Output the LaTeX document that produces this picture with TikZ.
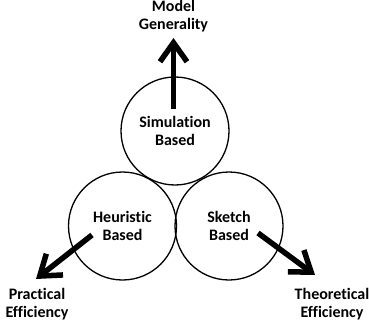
\documentclass[tikz,border=0pt]{standalone}
\usepackage{fontspec}
\setmainfont{Carlito}[Ligatures=NoCommon]
\usetikzlibrary{arrows.meta, positioning}
\tikzset{
    approach/.style={circle, draw=black, line width=1.3pt, minimum size=108pt, inner sep=0pt, align=center, font=\bfseries\fontsize{16}{18.5}\selectfont},
    goal/.style={align=center, font=\bfseries\fontsize{16}{18.5}\selectfont, inner sep=0pt},
    goalarrow/.style={-{Straight Barb[length=19pt, width=27pt]}, line width=5.5pt, black}
}

\begin{document}
\begin{tikzpicture}[x=1pt, y=-1pt]
\useasboundingbox (0,0) rectangle (369,326);

\node[approach] (sim) at (175,131) {Simulation\\Based};
\node[approach] (heur) at (122.5,226) {Heuristic\\Based};
\node[approach] (sketch) at (229,226) {Sketch\\Based};

\node[goal] (gen) at (173.5,16) {Model\\Generality};
\node[goal] (prac) at (37,304) {Practical\\Efficiency};
\node[goal] (theo) at (332,304) {Theoretical\\Efficiency};

\coordinate (simstart) at (173.5,109);
\coordinate (simtip) at (173.5,38);
\coordinate (heurstart) at (92,235);
\coordinate (heurtip) at (36,279);
\coordinate (sketchstart) at (258,233);
\coordinate (sketchtip) at (315,275);

\draw[goalarrow] (simstart) -- (simtip);
\draw[goalarrow] (heurstart) -- (heurtip);
\draw[goalarrow] (sketchstart) -- (sketchtip);

\end{tikzpicture}
\end{document}
